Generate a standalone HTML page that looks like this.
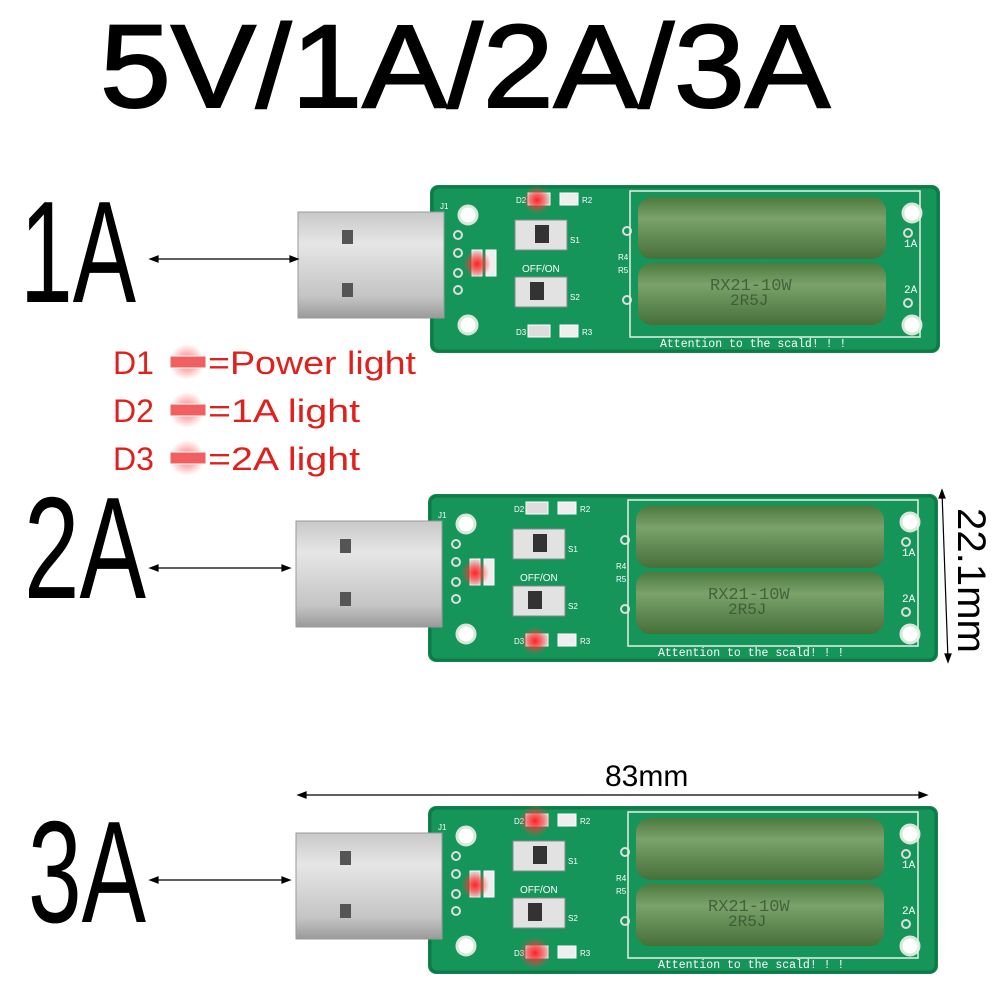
<!DOCTYPE html>
<html><head><meta charset="utf-8"><style>html,body{margin:0;padding:0;background:#fff}svg{display:block}</style></head>
<body>
<svg width="1000" height="1000" viewBox="0 0 1000 1000" xmlns="http://www.w3.org/2000/svg" font-family="Liberation Sans, sans-serif">
<defs>
<linearGradient id="usb" x1="0" y1="0" x2="0" y2="1"><stop offset="0" stop-color="#c8c8c8"/><stop offset="0.3" stop-color="#e6e6e6"/><stop offset="0.8" stop-color="#c4c4c4"/><stop offset="1" stop-color="#9a9a9a"/></linearGradient>
<linearGradient id="res" x1="0" y1="0" x2="0" y2="1"><stop offset="0" stop-color="#4d7a3f"/><stop offset="0.35" stop-color="#7aa26a"/><stop offset="1" stop-color="#466f3a"/></linearGradient>
<radialGradient id="glow"><stop offset="0" stop-color="#ff2020" stop-opacity="1"/><stop offset="0.5" stop-color="#ff3030" stop-opacity="0.6"/><stop offset="1" stop-color="#ff4040" stop-opacity="0"/></radialGradient>
<g id="board">
  <rect x="0" y="0" width="510" height="168" rx="8" fill="#15955a"/>
  <rect x="2" y="2" width="506" height="164" rx="7" fill="none" stroke="#0e7a46" stroke-width="3"/>
  <g fill="#fff" stroke="#d8e8d8" stroke-width="3">
    <circle cx="38" cy="30" r="9"/><circle cx="38" cy="140" r="9"/><circle cx="482" cy="28" r="9"/><circle cx="482" cy="140" r="9"/>
  </g>
  <g fill="none" stroke="#ddd" stroke-width="2">
    <circle cx="28" cy="50" r="4"/><circle cx="28" cy="68" r="4"/><circle cx="28" cy="88" r="4"/><circle cx="28" cy="105" r="4"/>
    <circle cx="197" cy="46" r="4"/><circle cx="197" cy="115" r="4"/><circle cx="478" cy="48" r="4"/><circle cx="478" cy="118" r="4"/>
  </g>
  <rect x="200" y="6" width="290" height="146" fill="none" stroke="#e8f0e8" stroke-width="1.5"/>
  <rect x="208" y="12" width="248" height="62" rx="14" fill="url(#res)"/>
  <rect x="208" y="78" width="248" height="62" rx="14" fill="url(#res)"/>
  <text x="280" y="105" font-size="17" fill="#2e4a28" font-family="Liberation Mono, monospace" opacity="0.7">RX21-10W</text>
  <text x="300" y="120" font-size="16" fill="#2e4a28" font-family="Liberation Mono, monospace" opacity="0.7">2R5J</text>
  <rect x="85" y="35" width="52" height="30" fill="#e2e2e2" stroke="#888"/><rect x="105" y="40" width="14" height="18" fill="#333"/>
  <rect x="85" y="92" width="52" height="30" fill="#e2e2e2" stroke="#888"/><rect x="100" y="97" width="14" height="18" fill="#333"/>
  <text x="92" y="87" font-size="10" fill="#fff">OFF/ON</text>
  <rect x="98" y="8" width="22" height="12" fill="#ddd" stroke="#fff"/><rect x="130" y="8" width="18" height="12" fill="#eee" stroke="#fff"/>
  <rect x="98" y="140" width="22" height="12" fill="#ddd" stroke="#fff"/><rect x="130" y="140" width="18" height="12" fill="#eee" stroke="#fff"/>
  <rect x="42" y="65" width="10" height="26" fill="#ddd" stroke="#fff"/><rect x="56" y="65" width="10" height="26" fill="#eee" stroke="#fff"/>
  <g font-size="8" fill="#fff"><text x="10" y="24">J1</text><text x="86" y="18">D2</text><text x="152" y="18">R2</text><text x="86" y="150">D3</text><text x="152" y="150">R3</text><text x="140" y="58">S1</text><text x="140" y="115">S2</text><text x="188" y="75">R4</text><text x="188" y="88">R5</text></g>
  <g font-size="11" fill="#fff" font-family="Liberation Mono, monospace"><text x="474" y="62">1A</text><text x="474" y="108">2A</text></g>
  <text x="230" y="162" font-size="11.5" fill="#fff" font-family="Liberation Mono, monospace">Attention to the scald! ! !</text>
  <rect x="-132" y="27" width="146" height="106" fill="url(#usb)" stroke="#999"/>
  <rect x="-88" y="45" width="11" height="14" fill="#555"/><rect x="-88" y="98" width="11" height="14" fill="#555"/>
</g>
</defs>

<text x="100" y="107" font-size="118" textLength="730" lengthAdjust="spacingAndGlyphs" fill="#000" stroke="#000" stroke-width="2">5V/1A/2A/3A</text>

<use href="#board" x="430" y="185"/>
<circle cx="477" cy="264" r="14" fill="url(#glow)"/><circle cx="537" cy="200" r="14" fill="url(#glow)"/>

<use href="#board" x="428" y="494"/>
<circle cx="475" cy="573" r="14" fill="url(#glow)"/><circle cx="535" cy="641" r="14" fill="url(#glow)"/>

<use href="#board" x="428" y="806"/>
<circle cx="475" cy="885" r="14" fill="url(#glow)"/><circle cx="535" cy="821" r="16" fill="url(#glow)"/><circle cx="535" cy="953" r="16" fill="url(#glow)"/>

<g font-size="145" fill="#000">
<text x="20" y="302" textLength="116" lengthAdjust="spacingAndGlyphs">1A</text>
<text x="24" y="598" textLength="122" lengthAdjust="spacingAndGlyphs">2A</text>
<text x="28" y="922" textLength="118" lengthAdjust="spacingAndGlyphs">3A</text>
</g>
<g stroke="#000" stroke-width="1.2" fill="#000">
<line x1="152" y1="259" x2="296" y2="259"/><path d="M150 259 l8 -3 v6z M298 259 l-8 -3 v6z"/>
<line x1="152" y1="568" x2="288" y2="568"/><path d="M150 568 l8 -3 v6z M290 568 l-8 -3 v6z"/>
<line x1="152" y1="880" x2="288" y2="880"/><path d="M150 880 l8 -3 v6z M290 880 l-8 -3 v6z"/>
<line x1="300" y1="795" x2="925" y2="795"/><path d="M298 795 l8 -3 v6z M927 795 l-8 -3 v6z"/>
<line x1="942" y1="492" x2="948" y2="660"/><path d="M942 490 l-3 8 h6z M948 662 l-3 -8 h6z"/>
</g>
<text x="605" y="786" font-size="30" fill="#000">83mm</text>
<text transform="translate(958,508) rotate(90)" font-size="40" fill="#000" textLength="145" lengthAdjust="spacingAndGlyphs">22.1mm</text>

<g font-size="32" fill="#e0201c">
<text x="113" y="374">D1</text><text x="208" y="374" textLength="208" lengthAdjust="spacingAndGlyphs">=Power light</text>
<text x="113" y="422">D2</text><text x="208" y="422" textLength="152" lengthAdjust="spacingAndGlyphs">=1A light</text>
<text x="113" y="470">D3</text><text x="208" y="470" textLength="152" lengthAdjust="spacingAndGlyphs">=2A light</text>
</g>
<g>
<circle cx="187" cy="362" r="18" fill="url(#glow)" opacity="0.6"/><rect x="170" y="356" width="36" height="12" fill="#f06060" stroke="#fff"/>
<circle cx="187" cy="410" r="18" fill="url(#glow)" opacity="0.6"/><rect x="170" y="404" width="36" height="12" fill="#f06060" stroke="#fff"/>
<circle cx="187" cy="458" r="18" fill="url(#glow)" opacity="0.6"/><rect x="170" y="452" width="36" height="12" fill="#f06060" stroke="#fff"/>
</g>
</svg>
</body></html>
